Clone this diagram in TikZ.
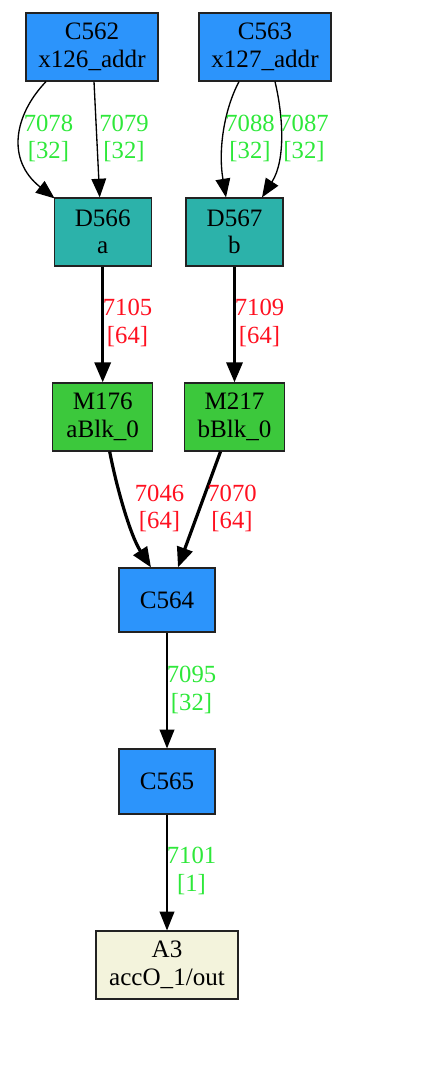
\documentclass[tikz,border=0pt]{standalone}
\usepackage{fontspec}
\setmainfont{Liberation Serif}
\usetikzlibrary{arrows.meta,calc}
\definecolor{cblue}{HTML}{2C94FB}
\definecolor{cteal}{HTML}{2CB2AA}
\definecolor{cgreen}{HTML}{3CC83C}
\definecolor{cbeige}{HTML}{F3F3DC}
\definecolor{lgreen}{HTML}{2EE83A}
\definecolor{lred}{HTML}{FF1020}
\definecolor{cborder}{HTML}{222222}
\tikzset{
  box/.style={draw=cborder, line width=0.9pt, rectangle, inner sep=0pt, align=center,
    font=\fontsize{18.8pt}{20.7pt}\selectfont, minimum height=51pt},
  bluebox/.style={box, fill=cblue},
  tealbox/.style={box, fill=cteal},
  greenbox/.style={box, fill=cgreen},
  beigebox/.style={box, fill=cbeige},
  thin edge/.style={draw=black, line width=1pt, -{Triangle[length=14pt,width=11pt]}},
  thick edge/.style={draw=black, line width=2.4pt, -{Triangle[length=15pt,width=12pt]}},
  glabel/.style={text=lgreen, align=center, inner sep=0pt, font=\fontsize{18.5pt}{20.7pt}\selectfont},
  rlabel/.style={text=lred, align=center, inner sep=0pt, font=\fontsize{18.5pt}{20.7pt}\selectfont}
}
\begin{document}
\begin{tikzpicture}[x=0.75pt,y=-0.75pt]
\useasboundingbox (0,0) rectangle (448,1084);
% nodes
\node[bluebox, minimum width=99pt] (C562) at (92,47) {C562\\x126\_addr};
\node[bluebox, minimum width=99pt] (C563) at (265,47) {C563\\x127\_addr};
\node[tealbox, minimum width=72.75pt] (D566) at (102.7,232) {D566\\a};
\node[tealbox, minimum width=72.75pt] (D567) at (234.5,232) {D567\\b};
\node[greenbox, minimum width=75pt] (M176) at (102.7,417) {M176\\aBlk\_0};
\node[greenbox, minimum width=75pt] (M217) at (234.5,417) {M217\\bBlk\_0};
\node[bluebox, minimum width=72pt, minimum height=48pt] (C564) at (167,600) {C564};
\node[bluebox, minimum width=72pt, minimum height=48.75pt] (C565) at (167,781.5) {C565};
\node[beigebox, minimum width=106.5pt] (A3) at (167,965) {A3\\accO\_1/out};
% edges
\draw[thin edge] ($(C562.south)+(-46,0)$) .. controls (14,115) and (6,160) .. ($(D566.north west)+(1,1)$);
\draw[thin edge] ($(C562.south)+(2,0)$) -- ($(D566.north)+(-3,0)$);
\draw[thin edge] ($(C563.south)+(-26,0)$) .. controls (224,110) and (218,150) .. ($(D567.north)+(-8.5,0)$);
\draw[thin edge] ($(C563.south)+(10,0)$) .. controls (283,115) and (286,160) .. ($(D567.north)+(27.5,0)$);
\draw[thick edge] (D566.south) -- (M176.north);
\draw[thick edge] (D567.south) -- (M217.north);
\draw[thick edge] ($(M176.south)+(7,0)$) .. controls (116,485) and (130,535) .. ($(C564.north)+(-16,0)$);
\draw[thick edge] ($(M217.south)+(-14,0)$) -- ($(C564.north)+(11,0)$);
\draw[thin edge] (C564.south) -- (C565.north);
\draw[thin edge] (C565.south) -- (A3.north);
% labels
\node[glabel] (l7078) at (48.5,138.5) {7078\\{[32]}};
\node[glabel] (l7079) at (124,138.5) {7079\\{[32]}};
\node[glabel] (l7088) at (250,138.5) {7088\\{[32]}};
\node[glabel] (l7087) at (304,138.5) {7087\\{[32]}};
\node[rlabel] (l7105) at (127.5,323) {7105\\{[64]}};
\node[rlabel] (l7109) at (259.5,323) {7109\\{[64]}};
\node[rlabel] (l7046) at (159.5,508.5) {7046\\{[64]}};
\node[rlabel] (l7070) at (232,508.5) {7070\\{[64]}};
\node[glabel] (l7095) at (191.5,690) {7095\\{[32]}};
\node[glabel] (l7101) at (191.5,871) {7101\\{[1]}};
\end{tikzpicture}
\end{document}
